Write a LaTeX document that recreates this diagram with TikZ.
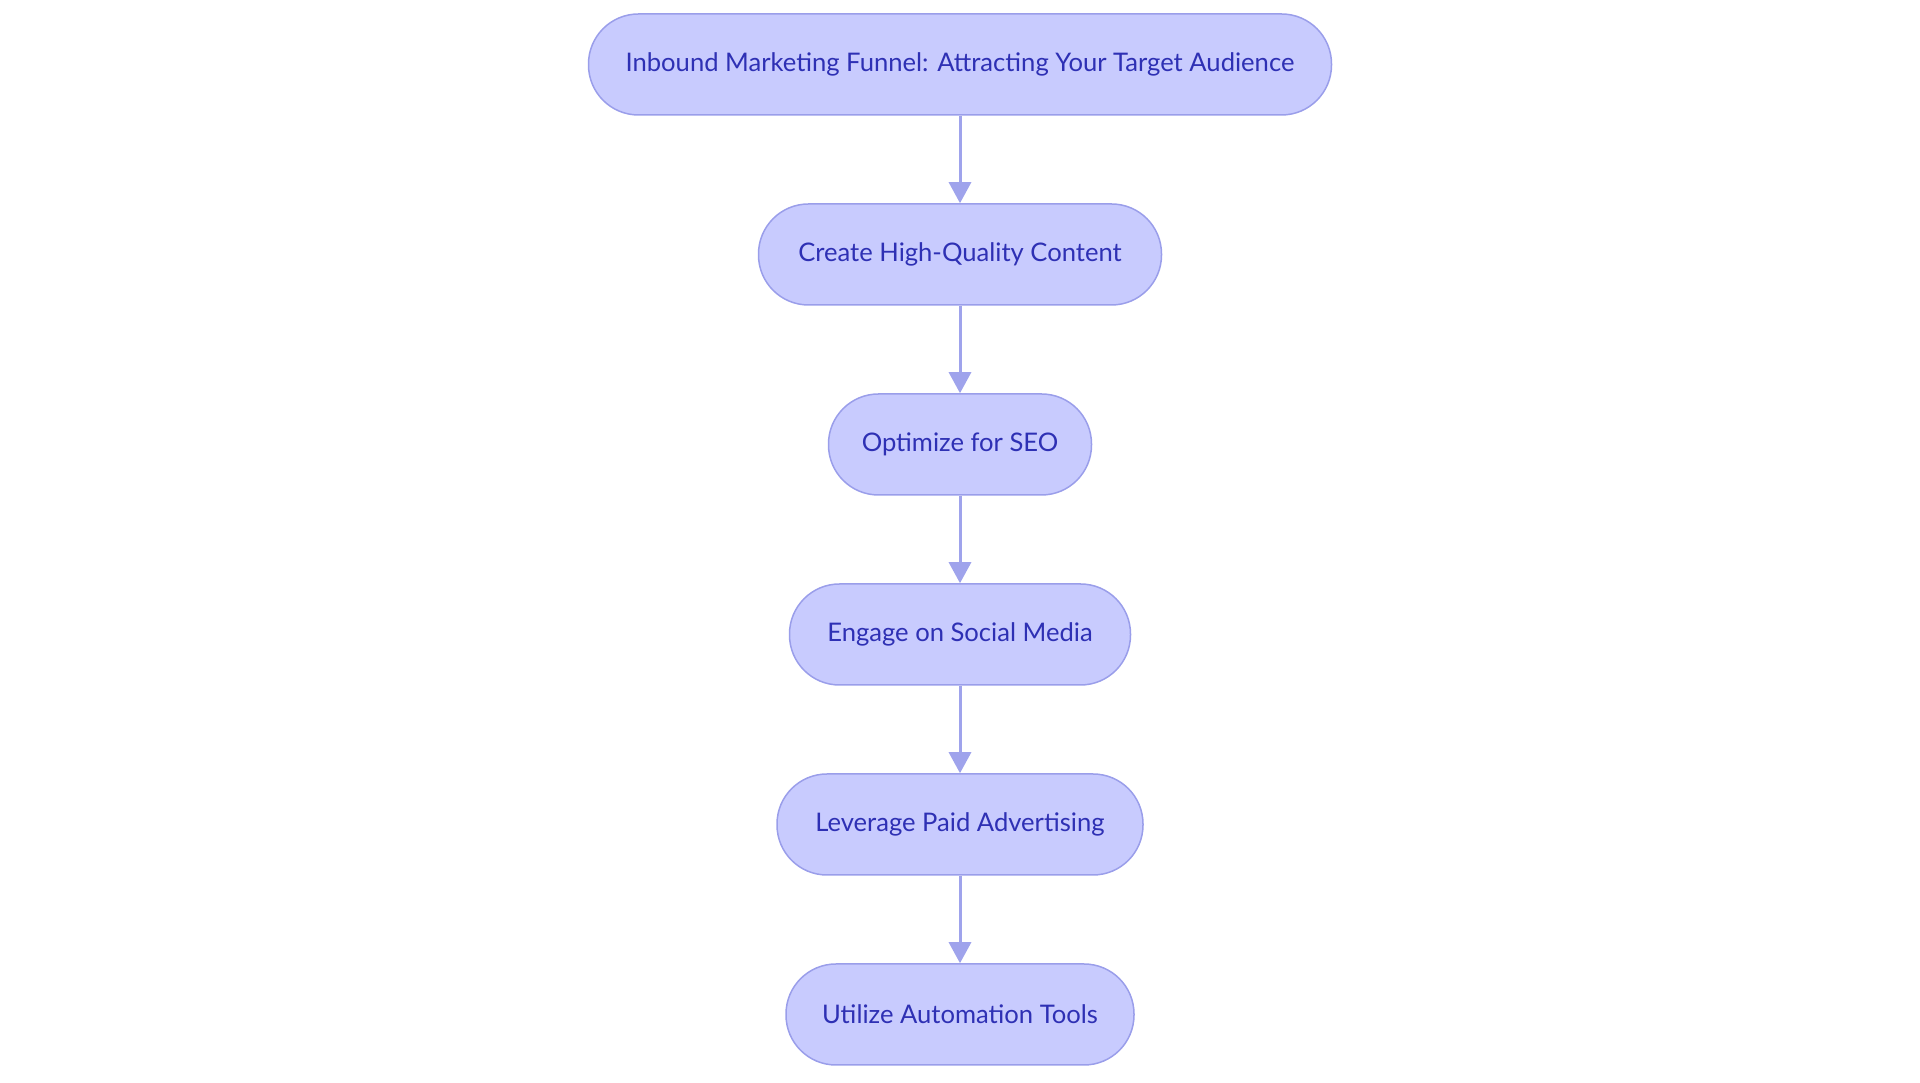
\documentclass[tikz,border=0pt]{standalone}
\usepackage{fontspec}
\setmainfont{Lato}
\usepackage{tikz}
\usetikzlibrary{arrows.meta}
\definecolor{stepfill}{HTML}{C8CBFE}
\definecolor{stepdraw}{HTML}{9A9EEA}
\definecolor{steptext}{HTML}{2E30B4}
\definecolor{arrowcol}{HTML}{9FA3EC}
\tikzstyle{Step} = [rectangle,
                    rounded corners=50pt,
                    minimum height=101pt,
                    inner sep=0pt,
                    text centered,
                    draw=stepdraw,
                    line width=1.5pt,
                    fill=stepfill,
                    text=steptext,
                    font=\fontsize{25.6}{30}\selectfont]
\tikzstyle{Flow} = [-{Triangle[length=21pt,width=22pt]},
                    draw=arrowcol,
                    line width=3pt]

\begin{document}
\begin{tikzpicture}[x=1pt, y=1pt, node distance=190pt]
        \useasboundingbox (0,0) rectangle (1920,1083);

        \node (Funnel) [Step, minimum width=743pt] at (960,1018.5) {Inbound Marketing Funnel: Attracting Your Target Audience};
        \node (Content) [Step, minimum width=403pt, below of=Funnel] {Create High-Quality Content};
        \node (SEO) [Step, minimum width=263pt, below of=Content] {Optimize for SEO};
        \node (Social) [Step, minimum width=341pt, below of=SEO] {Engage on Social Media};
        \node (Paid) [Step, minimum width=366pt, below of=Social] {Leverage Paid Advertising};
        \node (Tools) [Step, minimum width=348pt, below of=Paid] {Utilize Automation Tools};

        \draw [Flow] (Funnel) -- (Content);
        \draw [Flow] (Content) -- (SEO);
        \draw [Flow] (SEO) -- (Social);
        \draw [Flow] (Social) -- (Paid);
        \draw [Flow] (Paid) -- (Tools);
    \end{tikzpicture}
\end{document}
